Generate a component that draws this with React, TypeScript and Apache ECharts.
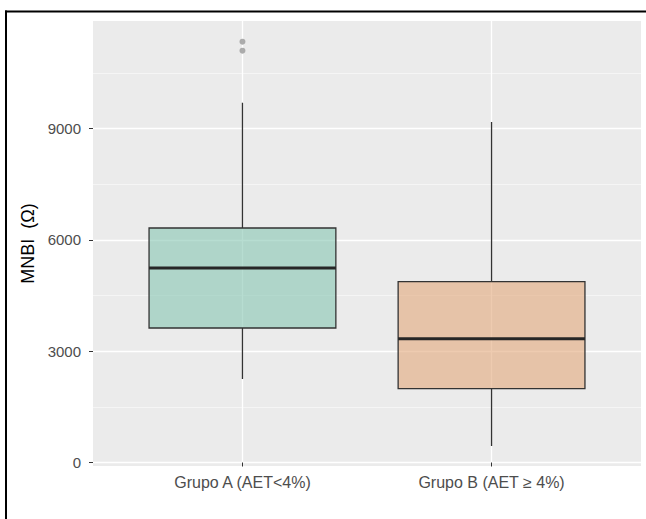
import React, { useEffect, useRef } from "react";
import * as echarts from "echarts";

// ---- data ----
const categories = ["Grupo A (AET<4%)", "Grupo B (AET \u2265 4%)"];
// [lower whisker, Q1, median, Q3, upper whisker]
const boxA = [2250, 3624, 5241, 6319, 9695];
const boxB = [445, 1989, 3336, 4872, 9175];
const outliersA = [11339, 11097];
const majorTicks = [0, 3000, 6000, 9000];
const minorTicks = [1500, 4500, 7500, 10500];
const fills = ["rgba(135,198,178,0.6)", "rgba(227,168,123,0.6)"];

export default function App() {
  const ref = useRef<HTMLDivElement>(null);

  useEffect(() => {
    document.body.style.margin = "0";
    const chart = echarts.init(ref.current!, null, { renderer: "svg" });
    const boxes = [boxA, boxB];
    const boxData = boxes.map((b, i) => [i + 1, ...b]);
    const outlierData = outliersA.map((v) => [1, v]);
    const yMin = -94;
    const yMax = 11897;
    const labelColor = "#4D4D4D";
    const font = "Liberation Sans, Arial, sans-serif";

    chart.setOption({
      animation: false,
      backgroundColor: "#ffffff",
      grid: {
        left: 93,
        right: 5,
        top: 21,
        bottom: 53,
        show: true,
        backgroundColor: "#EBEBEB",
        borderWidth: 0,
      },
      xAxis: {
        type: "value",
        min: 0.4,
        max: 2.6,
        axisLine: { show: false },
        axisTick: {
          show: true,
          length: 4,
          lineStyle: { color: "#333333", width: 1 },
          customValues: [1, 2],
        },
        axisLabel: {
          customValues: [1, 2],
          formatter: (v: number) => categories[Math.round(v) - 1] ?? "",
          color: labelColor,
          fontSize: 16,
          fontFamily: font,
          margin: 8,
        },
        splitLine: { show: true, lineStyle: { color: "#ffffff", width: 1.3 } },
      },
      yAxis: [
        {
          type: "value",
          min: yMin,
          max: yMax,
          axisLine: { show: false },
          axisTick: {
            show: true,
            length: 4,
            lineStyle: { color: "#333333", width: 1 },
            customValues: majorTicks,
          },
          axisLabel: {
            customValues: majorTicks,
            formatter: (v: number) => String(Math.round(v)),
            color: labelColor,
            fontSize: 15,
            fontFamily: font,
            margin: 12,
          },
          splitLine: { show: true, lineStyle: { color: "#ffffff", width: 1.3 } },
          name: "MNBI  (\u03A9)",
          nameLocation: "middle",
          nameGap: 56,
          nameTextStyle: { color: "#000000", fontSize: 18, fontFamily: font },
        },
        {
          type: "value",
          min: yMin,
          max: yMax,
          position: "left",
          axisLine: { show: false },
          axisTick: { show: false, customValues: minorTicks },
          axisLabel: { show: false, customValues: minorTicks },
          splitLine: { show: true, lineStyle: { color: "#F7F7F7", width: 0.8 } },
        },
      ],
      graphic: [
        {
          type: "line",
          shape: { x1: 5, y1: 11.5, x2: 646, y2: 11.5 },
          style: { stroke: "#000000", lineWidth: 2 },
          z: 100,
          silent: true,
        },
        {
          type: "line",
          shape: { x1: 6, y1: 10.5, x2: 6, y2: 519 },
          style: { stroke: "#000000", lineWidth: 2 },
          z: 100,
          silent: true,
        },
      ],
      series: [
        {
          type: "custom",
          xAxisIndex: 0,
          yAxisIndex: 0,
          data: boxData,
          encode: { x: 0, y: [1, 2, 3, 4, 5] },
          clip: false,
          z: 3,
          renderItem: (params: any, api: any) => {
            const x = api.value(0);
            const lo = api.coord([x, api.value(1)]);
            const q1 = api.coord([x, api.value(2)]);
            const md = api.coord([x, api.value(3)]);
            const q3 = api.coord([x, api.value(4)]);
            const hi = api.coord([x, api.value(5)]);
            const w = api.size([0.75, 0])[0];
            const stroke = "#333333";
            return {
              type: "group",
              children: [
                {
                  type: "line",
                  shape: { x1: lo[0], y1: lo[1], x2: q1[0], y2: q1[1] },
                  style: { stroke, lineWidth: 1.3 },
                },
                {
                  type: "line",
                  shape: { x1: hi[0], y1: hi[1], x2: q3[0], y2: q3[1] },
                  style: { stroke, lineWidth: 1.3 },
                },
                {
                  type: "rect",
                  shape: { x: q3[0] - w / 2, y: q3[1], width: w, height: q1[1] - q3[1] },
                  style: { fill: fills[params.dataIndex], stroke, lineWidth: 1.3 },
                },
                {
                  type: "line",
                  shape: { x1: md[0] - w / 2, y1: md[1], x2: md[0] + w / 2, y2: md[1] },
                  style: { stroke: "#262626", lineWidth: 3 },
                },
              ],
            };
          },
        },
        {
          type: "scatter",
          xAxisIndex: 0,
          yAxisIndex: 0,
          data: outlierData,
          symbolSize: 6,
          itemStyle: { color: "#A3A3A3", opacity: 0.9 },
          z: 4,
        },
      ],
    });

    return () => chart.dispose();
  }, []);

  return <div ref={ref} style={{ width: 646, height: 519 }} />;
}
